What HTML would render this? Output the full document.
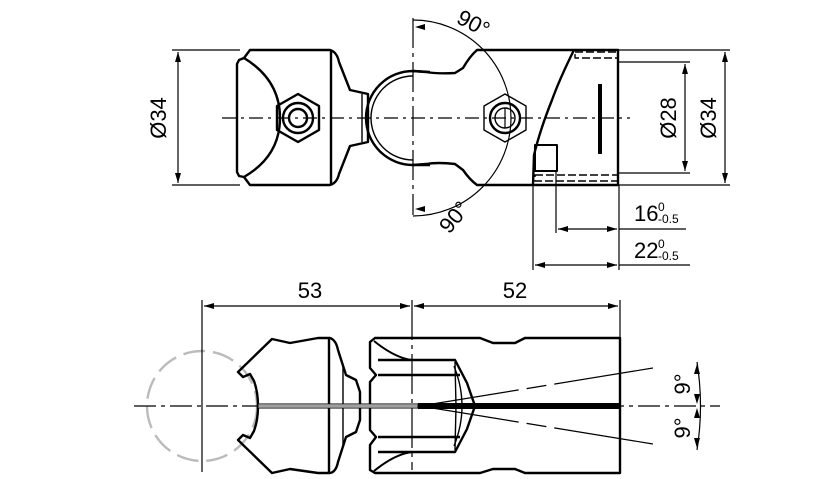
<!DOCTYPE html>
<html><head><meta charset="utf-8"><style>
html,body{margin:0;padding:0;background:#fff;}
svg{display:block;}
text{font-family:"Liberation Sans","DejaVu Sans",sans-serif;fill:#000;}
</style></head><body>
<svg width="827" height="479" viewBox="0 0 827 479" xmlns="http://www.w3.org/2000/svg">
<defs>
<marker id="a" viewBox="0 0 10 6" refX="10" refY="3" markerWidth="10" markerHeight="6" orient="auto-start-reverse" markerUnits="userSpaceOnUse"><path d="M0,0 L10,3 L0,6z" fill="#000"/></marker>
</defs>
<g fill="none" stroke="#000" stroke-width="1.2">
<line x1="222" y1="118" x2="630" y2="118" stroke-dasharray="14,5,3,5"/>
<line x1="413" y1="18" x2="413" y2="215" stroke-dasharray="30,5,4,5"/>
<line x1="172" y1="50" x2="240" y2="50"/>
<line x1="172" y1="185" x2="240" y2="185"/>
<line x1="178" y1="52" x2="178" y2="183" marker-start="url(#a)" marker-end="url(#a)"/>
<path d="M413,20 A98,98 0 0 1 413,216" />
<path d="M415,27 l10,-3 l0,6z M415,209 l10,-3 l0,6z" fill="#000" stroke="none"/>
</g>
<g fill="none" stroke="#000" stroke-width="2.4" stroke-linejoin="round">
<path d="M250,50 L330,50 Q337,52 339,62 L350,90 L368,94 L368,142 L350,146 L339,174 Q337,183 330,185 L250,185 L244,177 L239,176 L237,172 L237,64 L239,60 L244,58 Z"/>
<path d="M244,58 Q280,80 280,118 Q280,156 244,177"/>
<line x1="331" y1="51" x2="331" y2="184"/>
<line x1="362" y1="94" x2="362" y2="142" stroke-width="1.4"/>
<polygon points="298,94 319,106 319,130 298,142 277,130 277,106"/>
<circle cx="298" cy="118" r="15"/>
<circle cx="298" cy="118" r="9"/>
<path d="M430,72 L413,71 A47,47 0 0 0 413,165 L430,165"/>
<path d="M413,76 A42,42 0 0 0 413,160" stroke-width="1.4"/>
<path d="M413,71 L426,72 Q438,74 455,73 L463,68 Q470,56 477,50 L618,50 L618,185 L477,185 Q470,180 463,170 L455,164 Q438,162 426,164 L413,165"/>
<polygon points="505,94 526,106 526,130 505,142 484,130 484,106" stroke-width="1.4"/>
<circle cx="505" cy="118" r="15"/>
<circle cx="505" cy="118" r="10" stroke-width="1.4"/>
<line x1="505" y1="108" x2="505" y2="128" stroke-width="1.2"/>
<path d="M574,50 Q560,78 552,100 Q540,130 534,155 L533,185"/>
<line x1="600" y1="84" x2="600" y2="154" stroke-width="4"/>
<rect x="535" y="145" width="22" height="26" stroke-width="2"/>
<rect x="575" y="52" width="43" height="6" stroke-width="1.4" stroke-dasharray="8,3"/>
<rect x="535" y="175" width="83" height="6" stroke-width="1.4" stroke-dasharray="8,3"/>
</g>
<g fill="none" stroke="#000" stroke-width="1.2">
<line x1="618" y1="62" x2="690" y2="62"/>
<line x1="618" y1="173" x2="690" y2="173"/>
<line x1="618" y1="50" x2="730" y2="50"/>
<line x1="618" y1="185" x2="730" y2="185"/>
<line x1="685" y1="64" x2="685" y2="171" marker-start="url(#a)" marker-end="url(#a)"/>
<line x1="725" y1="52" x2="725" y2="183" marker-start="url(#a)" marker-end="url(#a)"/>
<line x1="619" y1="185" x2="619" y2="270"/>
<line x1="556" y1="172" x2="556" y2="233"/>
<line x1="533" y1="185" x2="533" y2="270"/>
<line x1="558" y1="229" x2="617" y2="229" marker-start="url(#a)" marker-end="url(#a)"/>
<line x1="619" y1="229" x2="686" y2="229"/>
<line x1="535" y1="265" x2="617" y2="265" marker-start="url(#a)" marker-end="url(#a)"/>
<line x1="619" y1="265" x2="690" y2="265"/>
</g>
<text font-size="22" transform="translate(166,118) rotate(-90)" text-anchor="middle">Ø34</text>
<text font-size="22" transform="translate(676,118) rotate(-90)" text-anchor="middle">Ø28</text>
<text font-size="22" transform="translate(716,118) rotate(-90)" text-anchor="middle">Ø34</text>
<text font-size="22" transform="translate(470,30) rotate(28)" text-anchor="middle">90°</text>
<text font-size="22" transform="translate(460,222) rotate(-50)" text-anchor="middle">90°</text>
<text font-size="22" x="634" y="221">16</text><text font-size="12" x="658" y="211">0</text><text font-size="12" x="658" y="223">-0.5</text>
<text font-size="22" x="634" y="258">22</text><text font-size="12" x="658" y="248">0</text><text font-size="12" x="658" y="260">-0.5</text>

<circle cx="202" cy="406" r="55" fill="none" stroke="#bbb" stroke-width="2.4" stroke-dasharray="22,8"/>
<g fill="none" stroke="#000" stroke-width="1.2">
<line x1="134" y1="406" x2="720" y2="406" stroke-dasharray="22,5,4,5"/>
<line x1="202" y1="300" x2="202" y2="472"/>
<line x1="412" y1="300" x2="412" y2="470" stroke-dasharray="40,5,4,5"/>
<line x1="620" y1="300" x2="620" y2="340"/>
<line x1="204" y1="306" x2="410" y2="306" marker-start="url(#a)" marker-end="url(#a)"/>
<line x1="414" y1="306" x2="618" y2="306" marker-start="url(#a)" marker-end="url(#a)"/>
<line x1="420" y1="406" x2="702" y2="360" stroke-dasharray="100,8,20,8,100"/>
<line x1="420" y1="406" x2="702" y2="452" stroke-dasharray="100,8,20,8,100"/>
<path d="M697,362 A280,280 0 0 1 697,450"/>
<path d="M697,364 l-3,10 l6,0z M697,404 l-3,-10 l6,0z M697,408 l-3,10 l6,0z M697,448 l-3,-10 l6,0z" fill="#000" stroke="none"/>
</g>
<text font-size="22" x="310" y="298" text-anchor="middle">53</text>
<text font-size="22" x="515" y="298" text-anchor="middle">52</text>
<text font-size="22" transform="translate(690,384) rotate(-90)" text-anchor="middle">9°</text>
<text font-size="22" transform="translate(690,428) rotate(-90)" text-anchor="middle">9°</text>
<g fill="none" stroke="#000" stroke-width="2.4" stroke-linejoin="round">
<path d="M272,339 L290,343 L318,338 L330,338 Q336,340 338,350 L346,375 L356,380 L360,392 L360,420 L356,432 L346,437 L338,462 Q336,472 330,473 L318,473 L290,469 L272,473 L238,440 L243,435 L250,438 L254,431 Q258,420 258,406 Q258,392 254,381 L250,374 L243,377 L238,372 Z"/>
<line x1="329" y1="339" x2="329" y2="472"/>
<line x1="343" y1="366" x2="343" y2="446" stroke-width="1.4"/>
<path d="M375,338 L480,338 L493,343 L515,343 L525,338 L620,338 L620,473 L525,473 L515,469 L493,469 L480,473 L375,473 L370,470 L370,445 L376,437 L370,430 L370,382 L376,375 L370,368 L370,342 Z"/>
<path d="M374,341 Q395,358 412,360" stroke-width="2"/>
<path d="M374,471 Q395,454 412,452" stroke-width="2"/>
<path d="M378,360 L455,360 L467,383 L475,406 L467,429 L455,452 L378,452"/>
<line x1="378" y1="375" x2="460" y2="375"/>
<line x1="378" y1="437" x2="460" y2="437"/>
<path d="M455,362 L456,406 L455,450" stroke-width="1.4"/>
<path d="M454,366 Q470,406 454,446" stroke-width="1.4"/>
</g>
<rect x="258" y="404" width="160" height="4" fill="#fff" stroke="#000" stroke-width="1"/>
<rect x="418" y="403" width="202" height="6" fill="#000"/>
<line x1="258" y1="406" x2="420" y2="406" stroke="#000" stroke-width="0.8"/>
</svg>
</body></html>
